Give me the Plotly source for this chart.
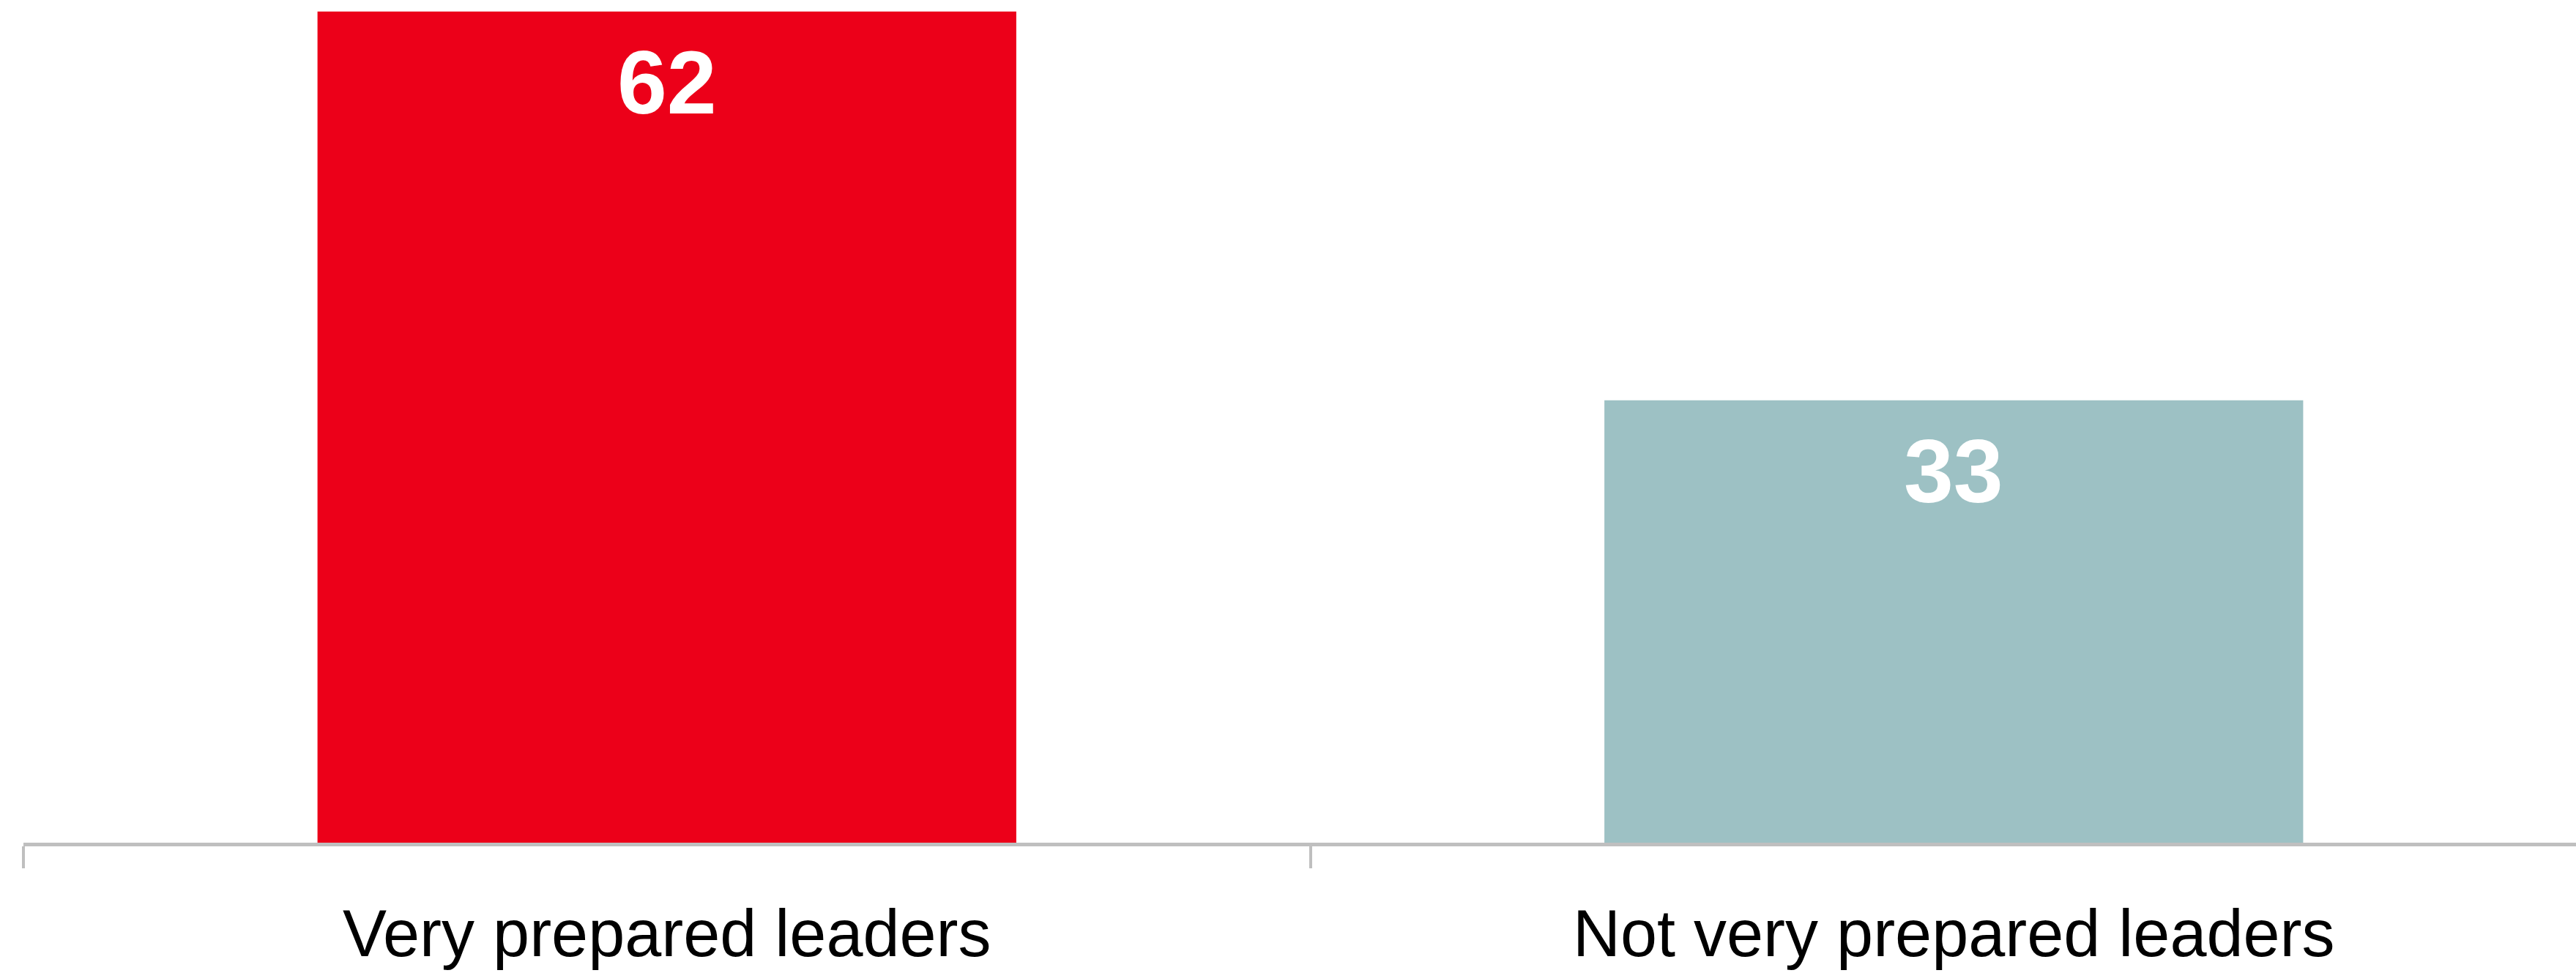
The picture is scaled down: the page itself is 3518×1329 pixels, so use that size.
import plotly.graph_objects as go

# Share of leaders, by preparedness group
categories = ["Very prepared leaders", "Not very prepared leaders"]
values = [62, 33]
bar_colors = ["#EC0019", "#9DC1C4"]

fig = go.Figure(
    go.Bar(
        x=categories,
        y=values,
        marker=dict(color=bar_colors, line=dict(width=0)),
        hoverinfo="skip",
    )
)

# Value labels placed just inside the top of each bar
for cat, val in zip(categories, values):
    fig.add_annotation(
        x=cat,
        y=val,
        text=f"<b>{val}</b>",
        showarrow=False,
        yanchor="top",
        yshift=-27,
        font=dict(family="Liberation Sans, Arial, sans-serif", size=122, color="#FFFFFF"),
    )

fig.update_layout(
    width=3518,
    height=1329,
    margin=dict(l=32, r=0, t=0, b=178),
    paper_bgcolor="#FFFFFF",
    plot_bgcolor="#FFFFFF",
    bargap=0.457,
    showlegend=False,
    font=dict(family="Liberation Sans, Arial, sans-serif", color="#000000"),
)

fig.update_xaxes(
    type="category",
    range=[-0.5, 1.4835],
    showgrid=False,
    zeroline=False,
    showline=True,
    linecolor="#BFBFBF",
    linewidth=5,
    ticks="outside",
    tickson="boundaries",
    ticklen=30,
    tickwidth=4,
    tickcolor="#BFBFBF",
    ticklabelstandoff=42,
    tickfont=dict(family="Liberation Sans, Arial, sans-serif", size=90, color="#000000"),
)

fig.update_yaxes(
    range=[0, 62.86],
    visible=False,
    showgrid=False,
    zeroline=False,
)

fig.write_html("out.html")
